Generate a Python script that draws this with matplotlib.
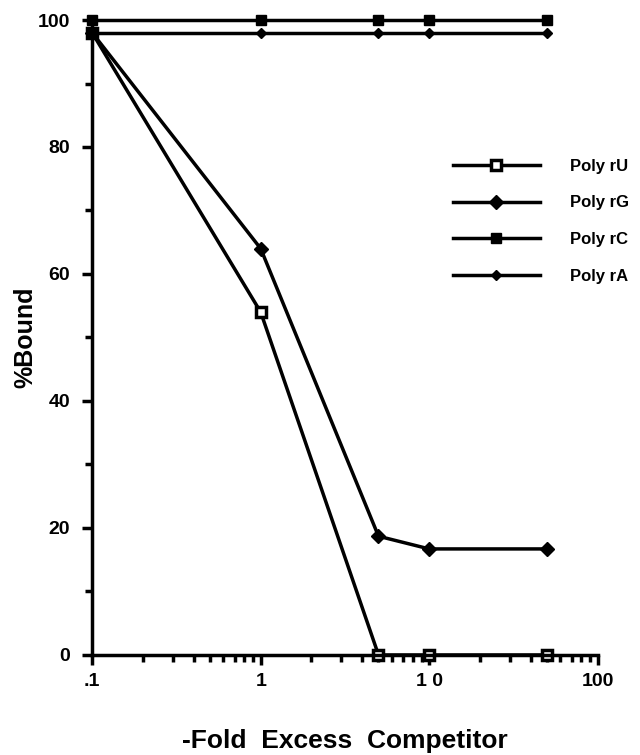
import matplotlib.pyplot as plt
import numpy as np
from matplotlib.ticker import FixedLocator, NullFormatter

plt.rcParams['font.family'] = ['Liberation Sans', 'DejaVu Sans']

x = [0.1, 1, 5, 10, 50]
poly_rU = [98, 54, 0, 0, 0]
poly_rG = [98, 64, 18.7, 16.7, 16.7]
poly_rC = [100, 100, 100, 100, 100]
poly_rA = [98, 98, 98, 98, 98]

fig = plt.figure(figsize=(6.4, 7.55), dpi=100)
ax = fig.add_axes([0.144, 0.1325, 0.79, 0.841])

ax.plot(x, poly_rU, color='black', lw=2.5, marker='s', ms=7, mfc='white',
        mec='black', mew=2.5, label='Poly rU', clip_on=False)
ax.plot(x, poly_rG, color='black', lw=2.5, marker='D', ms=7,
        label='Poly rG', clip_on=False)
ax.plot(x, poly_rC, color='black', lw=2.5, marker='s', ms=7,
        label='Poly rC', clip_on=False)
ax.plot(x, poly_rA, color='black', lw=2.5, marker='D', ms=5.5,
        label='Poly rA', clip_on=False)

ax.set_xscale('log')
ax.set_xlim(0.1, 100)
ax.set_ylim(0, 100)

ax.set_xticks([0.1, 1, 10, 100])
ax.set_xticklabels(['.1', '1', '1 0', '100'])
minor = [m * 10.0 ** e for e in range(-1, 2) for m in range(2, 10)]
ax.xaxis.set_minor_locator(FixedLocator(minor))
ax.xaxis.set_minor_formatter(NullFormatter())
ax.set_yticks([0, 20, 40, 60, 80, 100])
ax.yaxis.set_minor_locator(FixedLocator([10, 30, 50, 70, 90]))

for s in ['top', 'right']:
    ax.spines[s].set_visible(False)
for s in ['left', 'bottom']:
    ax.spines[s].set_linewidth(2.5)

ax.tick_params(which='major', direction='out', length=7, width=2.5,
               labelsize=14, pad=6)
ax.tick_params(axis='y', which='major', pad=9)
ax.tick_params(which='minor', direction='out', length=5, width=2.5)
for lab in ax.get_xticklabels() + ax.get_yticklabels():
    lab.set_fontweight('bold')

ax.set_ylabel('%Bound', fontsize=18, fontweight='bold', labelpad=0)
ax.set_xlabel('-Fold  Excess  Competitor', fontsize=19, fontweight='bold',
              labelpad=28)

leg = ax.legend(loc='upper left', bbox_to_anchor=(0.684, 0.805), frameon=False,
                handlelength=5.2, handletextpad=1.85, labelspacing=1.3,
                prop={'weight': 'bold', 'size': 12})

fig.savefig('out.png', dpi=100)
